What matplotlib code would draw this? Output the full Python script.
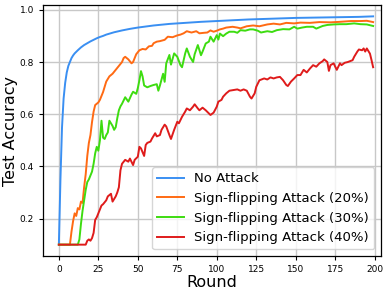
import numpy as np
import matplotlib
matplotlib.use("Agg")
import matplotlib.pyplot as plt

# values (round, accuracy)
no_attack_r = [0, 1, 2, 3, 4, 5, 6, 7, 8, 9, 10, 12, 14, 16, 18, 20, 22, 24, 26, 28, 30,
               35, 40, 45, 50, 55, 60, 70, 80, 90, 100, 110, 120, 130, 140, 150, 160,
               170, 180, 190, 199]
no_attack_v = [0.10, 0.35, 0.55, 0.66, 0.72, 0.76, 0.785, 0.80, 0.815, 0.825, 0.833,
               0.845, 0.856, 0.865, 0.872, 0.879, 0.885, 0.891, 0.896, 0.90, 0.905,
               0.914, 0.921, 0.927, 0.932, 0.936, 0.94, 0.946, 0.95, 0.954, 0.957,
               0.96, 0.963, 0.965, 0.967, 0.969, 0.970, 0.971, 0.972, 0.973, 0.975]

sf20_r = [0, 7, 8, 9, 10, 11, 12, 13, 14, 15, 16, 17, 18, 19, 20, 21, 22, 23, 25, 26,
          28, 30, 32, 34, 36, 38, 40, 41, 42, 44, 46, 47, 49, 51, 53, 55, 57, 59, 60,
          62, 64, 67, 69, 72, 75, 77, 79, 81, 84, 87, 89, 92, 94, 96, 98, 100, 102,
          104, 106, 110, 113, 115, 119, 123, 127, 132, 136, 140, 144, 149, 153, 159,
          165, 172, 178, 185, 191, 195, 199]
sf20_v = [0.10, 0.10, 0.15, 0.19, 0.22, 0.21, 0.24, 0.235, 0.265, 0.26, 0.32, 0.37,
          0.44, 0.49, 0.52, 0.57, 0.61, 0.635, 0.645, 0.655, 0.685, 0.725, 0.745,
          0.755, 0.77, 0.785, 0.80, 0.815, 0.82, 0.81, 0.795, 0.80, 0.83, 0.845, 0.85,
          0.848, 0.86, 0.862, 0.872, 0.878, 0.88, 0.885, 0.897, 0.895, 0.902, 0.905,
          0.91, 0.918, 0.913, 0.918, 0.91, 0.912, 0.913, 0.921, 0.916, 0.92, 0.925,
          0.928, 0.932, 0.935, 0.932, 0.929, 0.937, 0.94, 0.937, 0.944, 0.947, 0.944,
          0.95, 0.948, 0.951, 0.95, 0.953, 0.952, 0.954, 0.957, 0.957, 0.958, 0.953]

sf30_r = [0, 12, 13, 14, 15, 16, 17, 18, 19, 20, 21, 22, 23, 24, 25, 26, 27, 28, 29,
          30, 31, 32, 33, 34, 35, 36, 37, 38, 39, 40, 42, 44, 46, 47, 49, 50, 51, 52,
          53, 54, 56, 58, 60, 62, 63, 64, 66, 67, 68, 70, 71, 73, 75, 77, 78, 80, 81,
          83, 85, 86, 88, 90, 91, 93, 95, 96, 98, 100, 101, 102, 104, 106, 108, 111,
          113, 115, 118, 121, 123, 126, 128, 132, 135, 138, 142, 146, 149, 151, 154,
          157, 161, 163, 167, 170, 174, 178, 182, 187, 191, 195, 199]
sf30_v = [0.10, 0.10, 0.12, 0.18, 0.23, 0.27, 0.31, 0.34, 0.35, 0.365, 0.38, 0.41,
          0.45, 0.475, 0.46, 0.50, 0.575, 0.51, 0.505, 0.52, 0.53, 0.575, 0.565,
          0.555, 0.54, 0.55, 0.585, 0.615, 0.63, 0.64, 0.665, 0.648, 0.675, 0.686,
          0.678, 0.70, 0.73, 0.765, 0.745, 0.71, 0.703, 0.708, 0.712, 0.715, 0.69,
          0.71, 0.755, 0.724, 0.795, 0.827, 0.79, 0.833, 0.82, 0.788, 0.78, 0.833,
          0.852, 0.82, 0.80, 0.83, 0.865, 0.826, 0.84, 0.871, 0.878, 0.897, 0.878,
          0.903, 0.886, 0.909, 0.899, 0.909, 0.916, 0.916, 0.912, 0.922, 0.92, 0.925,
          0.925, 0.92, 0.913, 0.918, 0.915, 0.922, 0.926, 0.925, 0.935, 0.928, 0.932,
          0.935, 0.935, 0.928, 0.938, 0.942, 0.944, 0.945, 0.945, 0.948, 0.945,
          0.944, 0.938]

sf40_r = [0, 17, 18, 19, 20, 21, 22, 23, 24, 25, 26, 27, 28, 30, 31, 33, 34, 35, 36,
          37, 38, 39, 40, 42, 44, 45, 47, 48, 50, 51, 52, 54, 55, 56, 58, 59, 61, 62,
          64, 65, 67, 68, 70, 71, 73, 75, 76, 78, 80, 81, 83, 85, 86, 88, 89, 91, 93,
          95, 96, 98, 100, 101, 103, 104, 106, 108, 111, 113, 115, 117, 119, 121, 122,
          124, 125, 127, 130, 132, 134, 136, 138, 140, 142, 144, 145, 147, 149, 151,
          153, 155, 157, 159, 161, 163, 165, 167, 168, 170, 171, 172, 174, 175, 176,
          178, 179, 181, 183, 186, 187, 189, 190, 192, 193, 194, 195, 197, 198, 199]
sf40_v = [0.10, 0.10, 0.115, 0.12, 0.115, 0.125, 0.145, 0.195, 0.205, 0.22, 0.235,
          0.25, 0.255, 0.27, 0.285, 0.295, 0.265, 0.275, 0.285, 0.30, 0.32, 0.385,
          0.41, 0.425, 0.418, 0.43, 0.405, 0.425, 0.437, 0.475, 0.469, 0.44, 0.482,
          0.49, 0.495, 0.507, 0.527, 0.515, 0.52, 0.54, 0.56, 0.553, 0.52, 0.505,
          0.54, 0.571, 0.565, 0.59, 0.61, 0.622, 0.615, 0.629, 0.638, 0.622, 0.615,
          0.625, 0.615, 0.603, 0.597, 0.606, 0.629, 0.648, 0.655, 0.667, 0.68, 0.69,
          0.693, 0.695, 0.69, 0.695, 0.69, 0.667, 0.66, 0.68, 0.705, 0.73, 0.737,
          0.733, 0.741, 0.737, 0.741, 0.743, 0.73, 0.712, 0.708, 0.725, 0.737, 0.75,
          0.75, 0.77, 0.76, 0.775, 0.788, 0.782, 0.795, 0.803, 0.81, 0.80, 0.766,
          0.788, 0.795, 0.782, 0.77, 0.795, 0.788, 0.797, 0.80, 0.807, 0.82, 0.84,
          0.848, 0.845, 0.852, 0.84, 0.852, 0.832, 0.807, 0.78]

labels = ["No Attack", "Sign-flipping Attack (20%)",
          "Sign-flipping Attack (30%)", "Sign-flipping Attack (40%)"]
colors = ["#3a8ff2", "#ff6a13", "#3ddc10", "#df1b1b"]

fig = plt.figure(figsize=(3.88, 2.90), dpi=100)
ax = fig.add_axes([0.111, 0.117, 0.871, 0.866])

series = [(no_attack_r, no_attack_v), (sf20_r, sf20_v),
          (sf30_r, sf30_v), (sf40_r, sf40_v)]
for (r, v), lab, c in zip(series, labels, colors):
    ax.plot(r, v, color=c, lw=1.4, label=lab)

ax.set_xlim(-10, 204)
ax.set_xticks([0, 25, 50, 75, 100, 125, 150, 175, 200])
ax.set_yticks([0.2, 0.4, 0.6, 0.8, 1.0])
ax.grid(True, color="#c8c8c8", lw=1.0)
ax.set_axisbelow(True)
ax.tick_params(labelsize=6.5, length=3, width=0.8)
for s in ax.spines.values():
    s.set_linewidth(0.9)
ax.set_xlabel("Round", fontsize=11.5, labelpad=1)
ax.set_ylabel("Test Accuracy", fontsize=11.5, labelpad=1.5)
ax.legend(loc="lower right", fontsize=9.5, handlelength=2.0)

fig.savefig("out.png", dpi=100)
